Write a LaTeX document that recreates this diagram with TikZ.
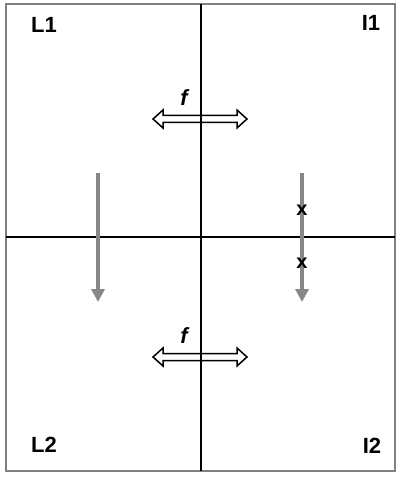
\documentclass[tikz,border=0pt]{standalone}
\usepackage{fontspec}
\setmainfont{Liberation Sans}
\usetikzlibrary{arrows.meta}
\definecolor{framegray}{RGB}{128,128,128}
\definecolor{arrowgray}{RGB}{135,135,138}

\begin{document}
\begin{tikzpicture}[x=1pt,y=-1pt,
	every node/.style={font=\fontsize{22}{22}\selectfont\bfseries,inner sep=0pt},
	axis/.style={draw=black,line width=2.3pt},
	flow/.style={draw=arrowgray,line width=4pt,-{Triangle[length=13pt,width=13pt]}},
	hollow/.style={draw=black,line width=1.5pt,fill=white,line join=miter}]
		\useasboundingbox (0,0) rectangle (400,478);

		% frame and axes
		\draw[framegray,line width=2.5pt] (6,4) rectangle (395,471);
		\coordinate (top) at (201,4);
		\coordinate (bot) at (201,471);
		\coordinate (lft) at (6,237);
		\coordinate (rgt) at (395,237);
		\draw[axis] (lft) -- (rgt);

		% corner labels
		\path (44,24.5) node (l1) {L1}
		(371,23) node (i1) {I1}
		(44,445) node (l2) {L2}
		(372,446) node (i2) {I2};

		% vertical arrows
		\coordinate (la) at (98,173);
		\coordinate (lb) at (98,302);
		\coordinate (ra) at (302,173);
		\coordinate (rb) at (302,302);
		\draw[flow] (la) -- (lb);
		\draw[flow] (ra) -- (rb);
		\path (302,210) node[font=\fontsize{20}{20}\selectfont\bfseries] (x1) {x}
		(302,263) node[font=\fontsize{20}{20}\selectfont\bfseries] (x2) {x};

		% hollow double arrows
		\foreach \y/\n in {119/fa,357/fb} {
			\draw[hollow] (153,\y) -- ++(10,-9) -- ++(0,5.5) -- (237,\y-3.5) -- ++(0,-5.5)
			-- (247,\y) -- (237,\y+9) -- ++(0,-5.5) -- (163,\y+3.5) -- ++(0,5.5) -- cycle;
			\node (\n) at (184,\y-21) {\itshape f};
		}
		\draw[axis] (top) -- (bot);
	\end{tikzpicture}
\end{document}
